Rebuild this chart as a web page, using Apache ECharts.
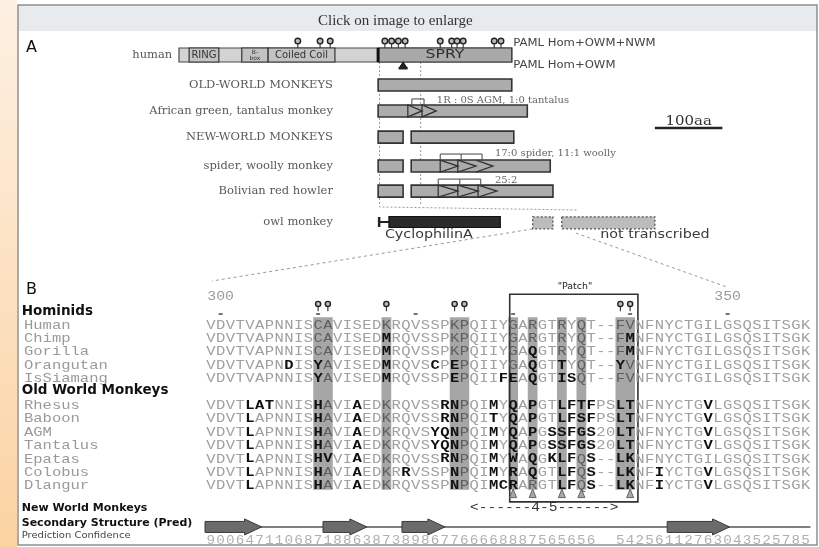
<!DOCTYPE html>
<html><head><meta charset="utf-8">
<script src="https://cdn.jsdelivr.net/npm/echarts@6.0.0/dist/echarts.min.js"></script>
<style>html,body{margin:0;padding:0;background:#fff;overflow:hidden}#chart{width:819px;height:547px}</style>
</head><body><div id="chart"></div>
<script>
// ===== Panel A data: x = amino-acid position, y = row index =====
const aRowNames = ['human','OLD-WORLD MONKEYS','African green, tantalus monkey','NEW-WORLD MONKEYS','spider, woolly monkey','Bolivian red howler','owl monkey'];
const aRowPos = [0, 1.08, 2.01, 2.95, 3.99, 4.89, 6.0];
const humanLength = 493;
const humanDomains = [['RING', 15, 59], ['B-\nbox', 93, 132], ['Coiled Coil', 132, 231], ['SPRY', 295, 493]];
const sprySegments = [[1,295,493],[2,295,516],[3,295,332],[3,344,496],[4,295,332],[4,344,550],[5,295,332],[5,344,554]];
const cypSegment = [6, 311, 476];
const cypLinker = [6, 295, 311];
const notTranscribed = [[6,524,554],[6,567,705]];
const repeatTriangles = [[2,339,360,0],[2,360,381,0],[4,387,413,0],[4,413,440,0],[4,440,465,1],[5,384,413,0],[5,413,443,0],[5,443,471,0]];
const repeatBrackets = [[2,345,363,-1],[4,387,449,418],[5,384,447,416]];
const repeatNotes = [[382,1.62,'1R : 0S AGM, 1:0 tantalus'],[468,3.52,'17:0 spider, 11:1 woolly'],[468,4.49,'25:2']];
const pamlAllSites = [176,209,224,305,315,325,335,387,404,412,421,467,477];
const pamlHomOwmSites = [332];
const guideLines = [[[297,0.25],[297,5.46],[590,5.57]],[[358,0.25],[358,5.38]]];
const zoomConnectors = [[[524,6.25],[49,8.12]],[[588,6.4],[812,8.34]]];
const scaleBar = [705, 805, 2.62, '100aa'];

// ===== Panel B data: x = alignment column, y = row index =====
const seqNames = ['Human','Chimp','Gorilla','Orangutan','IsSiamang','Rhesus','Baboon','AGM','Tantalus','Epatas','Colobus','Dlangur'];
const seqRows = [0,1,2,3,4,6,7,8,9,10,11,12];
const seqs = [
 'VDVTVAPNNISCAVISEDKRQVSSPKPQIIYGARGTRYQT--FVNFNYCTGILGSQSITSGK',
 'VDVTVAPNNISCAVISEDMRQVSSPKPQIIYGARGTRYQT--FMNFNYCTGILGSQSITSGK',
 'VDVTVAPNNISCAVISEDMRQVSSPKPQIIYGAQGTRYQT--FMNFNYCTGILGSQSITSGK',
 'VDVTVAPNDISYAVISEDMRQVSCPEPQIIYGAQGTTYQT--YVNFNYCTGILGSQSITSGK',
 'VDVTVAPNNISYAVISEDMRQVSSPEPQIIFEAQGTISQT--FVNFNYCTGILGSQSITSGK',
 'VDVTLATNNISHAVIAEDKRQVSSRNPQIMYQAPGTLFTFPSLTNFNYCTGVLGSQSITSGK',
 'VDVTLAPNNISHAVIAEDKRQVSSRNPQITYQAPGTLFSFPSLTNFNYCTGVLGSQSITSGK',
 'VDVTLAPNNISHAVIAEDKRQVSYQNPQIMYQAPGSSFGS20LTNFNYCTGVLGSQSITSGK',
 'VDVTLAPNNISHAVIAEDKRQVSYQNPQIMYQAPGSSFGS20LTNFNYCTGVLGSQSITSGK',
 'VDVTLAPNNISHVVIAEDKRQVSSRNPQIMYWAQGKLFQS--LKNFNYCTGILGSQSITSGK',
 'VDVTLAPNNISHAVIAEDKRRVSSPNPQIMYRAQGTLFQS--LKNFIYCTGVLGSQSITSGK',
 'VDVTLAPNNISHAVIAEDKRQVSSPNPQIMCRARGTLFQS--LKNFIYCTGVLGSQSITSGK'
];
const boldCols = [
 [], [18,43], [18,33,43], [8,11,18,23,25,33,36,42], [11,18,25,30,31,33,36,37],
 [4,5,6,11,15,24,25,29,31,33,36,37,38,39,42,43,51],
 [4,11,15,24,25,29,31,33,36,37,38,39,42,43,51],
 [4,11,15,23,24,25,29,31,33,35,36,37,38,39,42,43,51],
 [4,11,15,23,24,25,29,31,33,35,36,37,38,39,42,43,51],
 [4,11,12,15,24,25,29,31,33,35,36,37,39,42,43],
 [4,11,15,20,25,29,31,33,36,37,39,42,43,46,51],
 [4,11,15,25,29,30,31,36,37,39,42,43,46,51]
];
const groupHeaders = [['Hominids',-1.0],['Old World Monkeys',4.9]];
const shadedCols = [[11,12],[18,18],[25,26],[31,31],[33,33],[36,36],[38,38],[42,43]];
const selectedSites = [11,12,18,25,26,42,43];
const positionTicks = [1,11,21,31,43,53];
const positionLabels = [[1,'300'],[53,'350']];
const patchRegion = [31.15, 44.3, -2.3, 13.2];
const patchMarks = [31,33,36,38,43];
const ssStrands = [[-0.1,5.7],[12.0,16.5],[20.1,24.5],[47.3,53.7]];
const confidence = '9006471106871886387389867766668887565656  54256112763043525785';

// ===== styles =====
const TS = {
  speciesA:{font:'11.5px "DejaVu Serif"', fill:'#585858', align:'right', sx:1},
  domain:{font:'10px "DejaVu Sans"', fill:'#333', align:'center', sx:1},
  bbox:{font:'6px "DejaVu Sans"', fill:'#333', align:'center', sx:1},
  spry:{font:'13px "DejaVu Sans"', fill:'#2e2e2e', align:'center', sx:1.2},
  paml:{font:'11px "DejaVu Sans"', fill:'#444', align:'left', sx:1.06},
  note:{font:'10px "DejaVu Serif"', fill:'#666', align:'left', sx:1},
  scale:{font:'13px "DejaVu Serif"', fill:'#333', align:'center', sx:1.15},
  cyp:{font:'13px "DejaVu Sans"', fill:'#3a3a3a', align:'left', sx:1.1},
  groupHead:{font:'bold 13.5px "DejaVu Sans"', fill:'#111', align:'left', sx:1},
  nwm:{font:'bold 10.5px "DejaVu Sans"', fill:'#111', align:'left', sx:1.05},
  ssHead:{font:'bold 11px "DejaVu Sans"', fill:'#111', align:'left', sx:1},
  predHead:{font:'9.5px "DejaVu Sans"', fill:'#444', align:'left', sx:1.05},
  seqName:{font:'13.5px "Liberation Mono"', fill:'#9a9a9a', align:'left', sx:1.15},
  posLabel:{font:'13.5px "Liberation Mono"', fill:'#9a9a9a', align:'center', sx:1.1},
  patch:{font:'9px "DejaVu Sans"', fill:'#222', align:'center', sx:1.05},
  arrowTxt:{font:'13px "Liberation Mono"', fill:'#333', align:'center', sx:1.12}
};
function txt(p, text, st) {
  return {type:'text', x:p[0], y:p[1], scaleX:st.sx||1,
    style:{text:text, x:0, y:0, fill:st.fill, font:st.font, align:st.align, verticalAlign:'middle'}};
}
function layer(grid, items, anchor, draw, z) {
  return {type:'custom', xAxisIndex:grid, yAxisIndex:grid, z:z, silent:true, clip:false,
    data: items.map(anchor), renderItem:(params, api) => draw(items[params.dataIndex], api)};
}
function box(api, x0, x1, y, half) {
  const a = api.coord([x0, y]), b = api.coord([x1, y]);
  return {x:a[0], y:a[1]-half, width:b[0]-a[0], height:half*2};
}
function lollipop(api, x, yStem, yHead, r) {
  const s = api.coord([x, yStem]), h = api.coord([x, yHead]);
  return {type:'group', children:[
    {type:'line', shape:{x1:s[0], y1:s[1], x2:h[0], y2:h[1]+r}, style:{stroke:'#333', lineWidth:1.1}},
    {type:'circle', shape:{cx:h[0], cy:h[1], r:r}, style:{fill:'#bcbcbc', stroke:'#222', lineWidth:1.4}}]};
}

// ===== derived tables =====
const textA = aRowNames.map((n,i) => [i===0 ? -10 : 228, aRowPos[i], n, 'speciesA'])
 .concat(humanDomains.map(d => [(d[1]+d[2])/2, aRowPos[0], d[0], d[0]==='SPRY' ? 'spry' : (d[0].indexOf('box')>=0 ? 'bbox' : 'domain')]))
 .concat([[495, -0.43, 'PAML Hom+OWM+NWM', 'paml'], [495, 0.36, 'PAML Hom+OWM', 'paml']])
 .concat(repeatNotes.map(n => [n[0], n[1], n[2], 'note']))
 .concat([[(scaleBar[0]+scaleBar[1])/2, 2.41, scaleBar[3], 'scale'], [305, 6.47, 'CyclophilinA', 'cyp'], [624, 6.47, 'not transcribed', 'cyp']]);

const seqCells = [];
seqs.forEach((s, i) => { for (let c = 0; c < s.length; c++) seqCells.push([c, seqRows[i], s[c], boldCols[i].indexOf(c) >= 0 ? 1 : 0]); });
const confCells = [];
for (let c = 0; c < confidence.length; c++) if (confidence[c] !== ' ') confCells.push([c, 16.12, confidence[c]]);
const textB = seqNames.map((n,i) => [-18.67, seqRows[i], n, 'seqName'])
 .concat(groupHeaders.map(g => [-18.9, g[1], g[0], 'groupHead']))
 .concat([[-18.9, 13.66, 'New World Monkeys', 'nwm'], [-18.9, 14.75, 'Secondary Structure (Pred)', 'ssHead'], [-18.9, 15.72, 'Prediction Confidence', 'predHead']])
 .concat(positionLabels.map(p => [p[0]+0.5, -2.1, p[1], 'posLabel']))
 .concat([[37.85, -2.85, '"Patch"', 'patch'], [34.7, 13.66, '<------4-5------>', 'arrowTxt']]);
const inBand = c => shadedCols.some(b => c >= b[0] && c <= b[1]);

const series = [
  // ---- panel A ----
  layer(0, guideLines, g => g[0], (g, api) => ({type:'polyline', shape:{points:g.map(p => api.coord(p))}, style:{stroke:'#9a9a9a', lineWidth:1, lineDash:[2,2], fill:null}}), 1),
  layer(0, zoomConnectors, g => g[0], (g, api) => ({type:'polyline', shape:{points:g.map(p => api.coord(p))}, style:{stroke:'#9a9a9a', lineWidth:1, lineDash:[3,3], fill:null}}), 1),
  layer(0, [[0, humanLength]], d => [d[0], aRowPos[0]], (d, api) => ({type:'rect', shape:box(api, d[0], d[1], aRowPos[0], 7), style:{fill:'#d3d3d3', stroke:'#4a4a4a', lineWidth:1.2}}), 2),
  layer(0, humanDomains, d => [d[1], aRowPos[0]], (d, api) => {
    const sp = d[0] === 'SPRY';
    const r = box(api, d[1], d[2], aRowPos[0], 7);
    const ch = [{type:'rect', shape:r, style:{fill: sp ? '#a9a9a9' : '#c3c3c3', stroke:'#333', lineWidth:1.2}}];
    if (sp) ch.push({type:'line', shape:{x1:r.x, y1:r.y, x2:r.x, y2:r.y+r.height}, style:{stroke:'#111', lineWidth:3}});
    return {type:'group', children:ch};
  }, 3),
  layer(0, sprySegments, d => [d[1], aRowPos[d[0]]], (d, api) => ({type:'rect', shape:box(api, d[1], d[2], aRowPos[d[0]], 6), style:{fill:'#acacac', stroke:'#333', lineWidth:1.6}}), 3),
  layer(0, [cypLinker], d => [d[1], aRowPos[d[0]]], (d, api) => {
    const a = api.coord([d[1], aRowPos[d[0]]]), b = api.coord([d[2], aRowPos[d[0]]]);
    return {type:'group', children:[
      {type:'line', shape:{x1:a[0], y1:a[1], x2:b[0], y2:b[1]}, style:{stroke:'#222', lineWidth:2}},
      {type:'line', shape:{x1:a[0]+1, y1:a[1]-5, x2:a[0]+1, y2:a[1]+5}, style:{stroke:'#222', lineWidth:2.5}}]};
  }, 3),
  layer(0, [cypSegment], d => [d[1], aRowPos[d[0]]], (d, api) => ({type:'rect', shape:box(api, d[1], d[2], aRowPos[d[0]], 5.5), style:{fill:'#2b2b2b', stroke:'#111', lineWidth:1.2}}), 3),
  layer(0, notTranscribed, d => [d[1], aRowPos[d[0]]], (d, api) => ({type:'rect', shape:box(api, d[1], d[2], aRowPos[d[0]]+0.03, 6), style:{fill:'#bcbcbc', stroke:'#555', lineWidth:1.3, lineDash:[2,2]}}), 3),
  layer(0, repeatTriangles, d => [d[1], aRowPos[d[0]]], (d, api) => {
    const a = api.coord([d[1], aRowPos[d[0]]]), b = api.coord([d[2], aRowPos[d[0]]]);
    const pts = [[a[0], a[1]-6], [b[0], a[1]], [a[0], a[1]+6]];
    return d[3] ? {type:'polyline', shape:{points:pts}, style:{stroke:'#333', lineWidth:1.3, fill:null}}
                : {type:'polygon', shape:{points:pts}, style:{stroke:'#333', lineWidth:1.3, fill:'rgba(0,0,0,0)'}};
  }, 4),
  layer(0, repeatBrackets, d => [d[1], aRowPos[d[0]]], (d, api) => {
    const y = aRowPos[d[0]];
    const a = api.coord([d[1], y]), b = api.coord([d[2], y]);
    const top = a[1]-12, bot = a[1]-6;
    const ch = [{type:'polyline', shape:{points:[[a[0],bot],[a[0],top],[b[0],top],[b[0],bot]]}, style:{stroke:'#444', lineWidth:1, fill:null}}];
    if (d[3] >= 0) { const m = api.coord([d[3], y]); ch.push({type:'line', shape:{x1:m[0], y1:top, x2:m[0], y2:bot}, style:{stroke:'#444', lineWidth:1}}); }
    return {type:'group', children:ch};
  }, 4),
  layer(0, pamlAllSites, x => [x, aRowPos[0]], (x, api) => lollipop(api, x, aRowPos[0]-0.25, aRowPos[0]-0.5, 2.8), 4),
  layer(0, pamlHomOwmSites, x => [x, aRowPos[0]], (x, api) => {
    const p = api.coord([x, aRowPos[0]]);
    return {type:'group', children:[
      {type:'polygon', shape:{points:[[p[0], p[1]+7], [p[0]-4, p[1]+13], [p[0]+4, p[1]+13]]}, style:{fill:'#222', stroke:'#111', lineWidth:1}},
      {type:'rect', shape:{x:p[0]-4.5, y:p[1]+12, width:9, height:2.5}, style:{fill:'#222'}}]};
  }, 4),
  layer(0, [scaleBar], d => [d[0], d[2]], (d, api) => {
    const a = api.coord([d[0], d[2]]), b = api.coord([d[1], d[2]]);
    return {type:'line', shape:{x1:a[0], y1:a[1], x2:b[0], y2:b[1]}, style:{stroke:'#222', lineWidth:2.5}};
  }, 4),
  layer(0, textA, t => [t[0], t[1]], (t, api) => txt(api.coord([t[0], t[1]]), t[2], TS[t[3]]), 6),
  // ---- panel B ----
  layer(1, shadedCols, b => [b[0], 0], (b, api) => {
    const a = api.coord([b[0], -0.58]), e = api.coord([b[1]+1, 12.3]);
    return {type:'rect', shape:{x:a[0], y:a[1], width:e[0]-a[0], height:e[1]-a[1]}, style:{fill:'#a6a6a6'}};
  }, 1),
  layer(1, [patchRegion], r => [r[0], r[2]], (r, api) => {
    const a = api.coord([r[0], r[2]]), e = api.coord([r[1], r[3]]);
    return {type:'rect', shape:{x:a[0], y:a[1], width:e[0]-a[0], height:e[1]-a[1]}, style:{fill:null, stroke:'#333', lineWidth:1.6}};
  }, 3),
  layer(1, positionTicks, c => [c+0.5, -0.82], (c, api) => {
    const p = api.coord([c+0.5, -0.82]);
    return {type:'line', shape:{x1:p[0]-2, y1:p[1], x2:p[0]+2, y2:p[1]}, style:{stroke:'#444', lineWidth:1.5}};
  }, 3),
  layer(1, selectedSites, c => [c+0.5, -1.5], (c, api) => lollipop(api, c+0.5, -1.02, -1.57, 2.6), 4),
  layer(1, seqCells, c => [c[0]+0.5, c[1]], (c, api) => {
    const p = api.coord([c[0]+0.5, c[1]]);
    const col = c[3] ? '#111' : (inBand(c[0]) && c[1] <= 12 ? '#5e5e5e' : '#a0a0a0');
    return {type:'text', x:p[0], y:p[1], scaleX:1.15, style:{text:c[2], x:0, y:0, fill:col, font:(c[3] ? 'bold ' : '') + '13.5px "Liberation Mono"', align:'center', verticalAlign:'middle'}};
  }, 5),
  layer(1, confCells, c => [c[0]+0.5, c[1]], (c, api) => {
    const p = api.coord([c[0]+0.5, c[1]]);
    return {type:'text', x:p[0], y:p[1], scaleX:1.1, style:{text:c[2], x:0, y:0, fill:'#b0b0b0', font:'13px "Liberation Mono"', align:'center', verticalAlign:'middle'}};
  }, 5),
  layer(1, [[0, 62, 15.07]], d => [d[0], d[2]], (d, api) => {
    const a = api.coord([d[0], d[2]]), b = api.coord([d[1], d[2]]);
    return {type:'line', shape:{x1:a[0], y1:a[1], x2:b[0], y2:b[1]}, style:{stroke:'#555', lineWidth:1.5}};
  }, 3),
  layer(1, ssStrands, s => [s[0], 15.07], (s, api) => {
    const a = api.coord([s[0], 15.07]), b = api.coord([s[1], 15.07]);
    const h = b[0] - 17, y = a[1];
    return {type:'polygon', shape:{points:[[a[0],y-5.5],[h,y-5.5],[h,y-8],[b[0],y],[h,y+8],[h,y+5.5],[a[0],y+5.5]]}, style:{fill:'#6b6b6b', stroke:'#3a3a3a', lineWidth:1}};
  }, 4),
  layer(1, patchMarks, c => [c+0.5, 12.62], (c, api) => {
    const p = api.coord([c+0.5, 12.62]);
    return {type:'polygon', shape:{points:[[p[0], p[1]-5], [p[0]-3.5, p[1]+3.5], [p[0]+3.5, p[1]+3.5]]}, style:{fill:'#a8a8a8', stroke:'#666', lineWidth:1}};
  }, 4),
  layer(1, textB, t => [t[0], t[1]], (t, api) => txt(api.coord([t[0], t[1]]), t[2], TS[t[3]]), 6)
];

const chart = echarts.init(document.getElementById('chart'), null, {renderer:'canvas'});
chart.setOption({
  animation:false,
  backgroundColor:'#ffffff',
  title:[
    {text:'Click on image to enlarge', left:313, top:9, textStyle:{fontFamily:'Liberation Serif', fontSize:15, fontWeight:'normal', color:'#333'}},
    {text:'A', left:21, top:35, textStyle:{fontFamily:'DejaVu Sans', fontSize:16, fontWeight:'normal', color:'#111'}},
    {text:'B', left:21, top:277, textStyle:{fontFamily:'DejaVu Sans', fontSize:16, fontWeight:'normal', color:'#111'}}
  ],
  graphic:[
    {type:'rect', z:-5, shape:{x:0, y:0, width:17, height:547}, style:{fill:{type:'linear', x:0, y:0, x2:0, y2:1, colorStops:[{offset:0, color:'#fdf0e2'}, {offset:1, color:'#fbd3a2'}]}}},
    {type:'rect', z:-4, shape:{x:18, y:5, width:799, height:26}, style:{fill:'#e8ebee'}},
    {type:'rect', z:-3, shape:{x:18, y:5, width:799, height:540}, style:{fill:null, stroke:'#8f8f8f', lineWidth:1.5}}
  ],
  grid:[{left:179, top:27.17, width:607.5, height:222.64}, {left:206, top:271.4, width:604.5, height:274.7}],
  xAxis:[{type:'value', gridIndex:0, min:0, max:900, show:false}, {type:'value', gridIndex:1, min:0, max:62, show:false}],
  yAxis:[{type:'value', gridIndex:0, min:-1, max:7, inverse:true, show:false}, {type:'value', gridIndex:1, min:-4, max:16.5, inverse:true, show:false}],
  series:series
});
</script></body></html>
